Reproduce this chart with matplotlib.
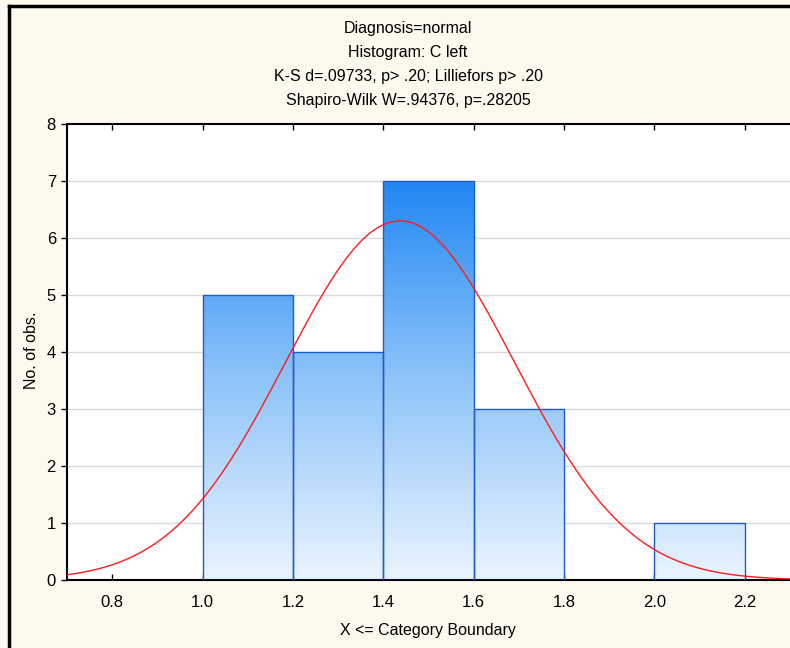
import numpy as np
import matplotlib
matplotlib.use("Agg")
import matplotlib.pyplot as plt
from matplotlib.colors import LinearSegmentedColormap
from matplotlib.patches import Rectangle
from matplotlib.lines import Line2D

# ---- data ----
bin_edges = [1.0, 1.2, 1.4, 1.6, 1.8, 2.0, 2.2]
counts = [5, 4, 7, 3, 0, 1]
fit_mean = 1.437
fit_sd = 0.2533
x_ticks = [0.8, 1.0, 1.2, 1.4, 1.6, 1.8, 2.0, 2.2]
y_ticks = [0, 1, 2, 3, 4, 5, 6, 7, 8]
title_lines = ["Diagnosis=normal", "Histogram: C left",
               "K-S d=.09733, p> .20; Lilliefors p> .20",
               "Shapiro-Wilk W=.94376, p=.28205"]
xlabel = "X <= Category Boundary"
ylabel = "No. of obs."

plt.rcParams['font.family'] = ['Liberation Sans', 'DejaVu Sans']

W, H = 790, 648
fig = plt.figure(figsize=(W / 100, H / 100), dpi=100)
fig.patch.set_facecolor('#FEF9EE')

ax = fig.add_axes([67 / W, (H - 580) / H, (790 - 67) / W, (580 - 124) / H])
ax.set_facecolor('white')
ax.set_xlim(0.7, 2.3)
ax.set_ylim(0, 8)

# gridlines
for yv in y_ticks[1:-1]:
    ax.axhline(yv, color='#D9D9D9', lw=1.0, zorder=0)

# gradient-filled bars
cmap = LinearSegmentedColormap.from_list('g', ['#EAF4FE', '#8CC3F9', '#1A84F3'])
grad = np.linspace(0, 1, 256).reshape(-1, 1)
widths = np.diff(bin_edges)
for left, w, c in zip(bin_edges[:-1], widths, counts):
    if c <= 0:
        continue
    rect = Rectangle((left, 0), w, c, facecolor='none', edgecolor='#1F5BC9', lw=1.0, zorder=3)
    ax.add_patch(rect)
    im = ax.imshow(grad, extent=(0.7, 2.3, 0, 7.2), origin='lower', cmap=cmap,
                   aspect='auto', zorder=2, interpolation='bilinear')
    im.set_clip_path(rect)
ax.set_xlim(0.7, 2.3)
ax.set_ylim(0, 8)

# normal fit
xs = np.linspace(0.7, 2.3, 400)
N = sum(counts)
bw = widths[0]
ys = N * bw * np.exp(-0.5 * ((xs - fit_mean) / fit_sd) ** 2) / (fit_sd * np.sqrt(2 * np.pi))
ax.plot(xs, ys, color='#FF1A1A', lw=1.0, zorder=4)

# ticks and spines
ax.set_xticks(x_ticks)
ax.set_xticklabels([f"{v:.1f}" for v in x_ticks])
ax.set_yticks(y_ticks)
ax.tick_params(axis='x', direction='in', top=True, bottom=True, length=4, width=1,
               labelsize=12, pad=11, colors='black')
ax.tick_params(axis='y', direction='out', left=True, length=4, width=1,
               labelsize=12, pad=4, colors='black')
for s in ['top', 'left', 'bottom']:
    ax.spines[s].set_linewidth(1.5)
    ax.spines[s].set_color('black')
ax.spines['right'].set_visible(False)

fig.text(428 / W, 1 - 631 / H, xlabel, ha='center', va='center', fontsize=11.5)
fig.text(32 / W, 1 - 350 / H, ylabel, ha='center', va='center', fontsize=11.5, rotation=90)

# titles
for i, t in enumerate(title_lines):
    fig.text(408 / W, 1 - (28 + 24 * i) / H, t, ha='center', va='center', fontsize=11.5)

# frame lines (top and left)
fig.add_artist(Line2D([9 / W, 9 / W], [0, 1 - 6 / H], transform=fig.transFigure,
                      color='black', lw=2.5))
fig.add_artist(Line2D([9 / W, 1], [1 - 6 / H, 1 - 6 / H], transform=fig.transFigure,
                      color='black', lw=2.5))

fig.savefig('out.png', dpi=100, facecolor=fig.get_facecolor())
